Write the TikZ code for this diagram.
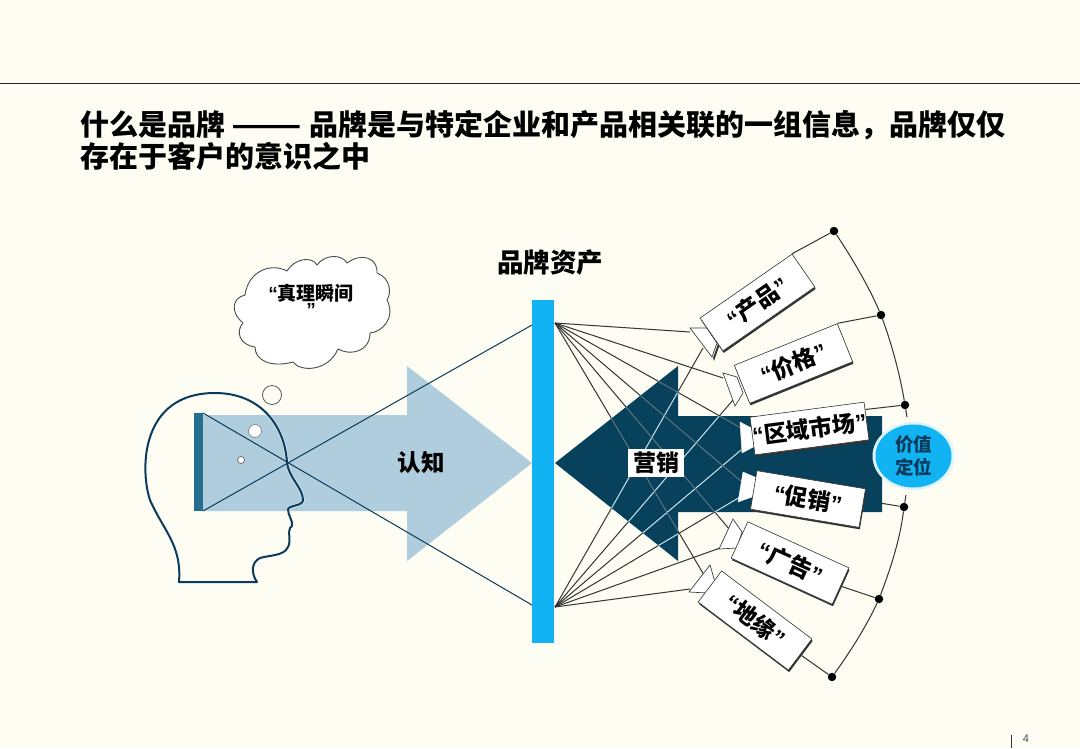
\documentclass[tikz,border=0pt]{standalone}
\usepackage{fontspec}
\usetikzlibrary{calc,patterns.meta}
\setmainfont{Noto Sans CJK SC}
\newfontfamily\qfont{Liberation Sans}
\definecolor{bgc}{HTML}{FDFDF3}
\definecolor{bgdot}{HTML}{F6F6E6}
\definecolor{lightarrow}{HTML}{AFCDDC}
\definecolor{darkarrow}{HTML}{07415C}
\definecolor{barblue}{HTML}{12B3F2}
\definecolor{headbar}{HTML}{256E8E}
\definecolor{navytext}{HTML}{0B3B5C}
\def\lqm{{\qfont “}}
\def\rqm{{\qfont ”}}
\def\mydarkarrow{(555,463) -- (678,366) -- (678,416) -- (882,416) -- (882,512) -- (678,512) -- (678,561) -- cycle}
\tikzset{
 x=1pt,y=-1pt,
 labelbox/.style={draw=black!80,line width=.6pt,fill=white,minimum width=110pt,minimum height=39pt,inner sep=0pt,
   font=\fontsize{23}{23}\selectfont\bfseries,text=black},
 shadowbox/.style={fill=black!80,inner sep=0pt,minimum width=110pt,minimum height=39pt},
 camera/.style={draw=black!75,line width=.7pt,fill=white},
 ray/.style={line width=1pt,draw=black!80},
 dotn/.style={circle,fill=black,inner sep=0pt,minimum size=8.5pt},
 arcl/.style={line width=1pt,draw=black!80},
 heading/.style={font=\fontsize{29}{32}\selectfont\bfseries,text=black,anchor=north west,align=left,inner sep=0pt},
}
\begin{document}
\begin{tikzpicture}
\useasboundingbox (0,0) rectangle (1080,748);
\fill[bgc] (0,0) rectangle (1080,748);
\fill[pattern={Dots[distance=8pt,radius=.7pt]},pattern color=bgdot] (0,0) rectangle (1080,748);
\draw[black!85,line width=.8pt] (0,83) -- (1080,83);
\node[heading] (title) at (80,110.5) {什么是品牌 \scalebox{1.42}[1]{——} 品牌是与特定企业和产品相关联的一组信息，品牌仅仅\\存在于客户的意识之中};

% light arrow
\fill[lightarrow] (203,415) -- (407,415) -- (407,366) -- (532,463) -- (407,561) -- (407,511) -- (203,511) -- cycle;
\fill[headbar] (194,413) rectangle (203,511);
\node[inner sep=0pt,font=\fontsize{23.5}{24}\selectfont\bfseries] (renzhi) at (421,463) {认知};

% coordinates
\coordinate (hT) at (203,413);
\coordinate (hB) at (203,511);
\coordinate (wT) at (532,325);
\coordinate (wB) at (532,605);
\coordinate (cT) at (555,323);
\coordinate (cB) at (555,607);

% head
\draw[white,opacity=.5,line width=3.4pt,line join=round] (179,582) .. controls (182,545) and (163,530) .. (150,500) .. controls (140,470) and (140,393) .. (215,393) .. controls (260,393) and (285,425) .. (287,463) .. controls (289,478) and (303,488) .. (303,500) .. controls (303,506) and (290,505) .. (288,509) .. controls (288,516) and (293,520) .. (292,526) .. controls (286,530) and (292,540) .. (288,547) .. controls (284,556) and (270,555) .. (260,558) .. controls (250,563) and (252,575) .. (257,582) -- cycle;
\draw[navytext,line width=2pt,line join=round] (179,582) .. controls (182,545) and (163,530) .. (150,500) .. controls (140,470) and (140,393) .. (215,393) .. controls (260,393) and (285,425) .. (287,463) .. controls (289,478) and (303,488) .. (303,500) .. controls (303,506) and (290,505) .. (288,509) .. controls (288,516) and (293,520) .. (292,526) .. controls (286,530) and (292,540) .. (288,547) .. controls (284,556) and (270,555) .. (260,558) .. controls (250,563) and (252,575) .. (257,582) -- cycle;
\draw[ray,navytext] (hT) -- (wB);
\draw[ray,navytext] (hB) -- (wT);

% bubbles
\node[circle,draw=black!65,fill=bgc,line width=.8pt,minimum size=19pt,inner sep=0pt] (b1) at (272,395) {};
\node[circle,draw=black!45,fill=white,line width=.8pt,minimum size=13pt,inner sep=0pt] (b2) at (255,431) {};
\node[circle,draw=black!60,fill=white,line width=.7pt,minimum size=7pt,inner sep=0pt] (b3) at (241,460) {};

% cloud
\draw[black!70,fill=white,line width=.9pt,line join=round]
 (243,323) .. controls (230,312) and (232,298) .. (245,295)
 .. controls (248,272) and (270,262) .. (287,271)
 .. controls (295,258) and (312,256) .. (317,265)
 .. controls (325,254) and (342,254) .. (347,263)
 .. controls (362,252) and (378,258) .. (377,273)
 .. controls (390,278) and (392,292) .. (387,300)
 .. controls (396,318) and (382,332) .. (370,333)
 .. controls (370,352) and (350,356) .. (338,349)
 .. controls (328,372) and (300,372) .. (293,362)
 .. controls (270,368) and (255,360) .. (255,347)
 .. controls (240,345) and (235,332) .. (243,323) -- cycle;
\node[inner sep=0pt,align=center,font=\fontsize{19}{13.5}\selectfont\bfseries] (cloudtext) at (311,300) {\lqm{}真理瞬间\\\rqm};

% blue bar
\fill[barblue] (532,300) rectangle (554,643);
\node[inner sep=0pt,font=\fontsize{26.5}{27}\selectfont\bfseries] (zichan) at (550,263) {品牌资产};

% dots
\node[dotn] (dA) at (834,231) {};
\node[dotn] (dB) at (881,315) {};
\node[dotn] (dC) at (905,405) {};
\node[dotn] (dD) at (904,507) {};
\node[dotn] (dE) at (879,599) {};
\node[dotn] (dF) at (832,677) {};
\coordinate (tickC) at (907,417);
\coordinate (tickD) at (906,495);
\draw[arcl] (dA) .. controls (852,258) and (868,285) .. (dB);
\draw[arcl] (dB) .. controls (892,345) and (900,375) .. (dC);
\draw[arcl] (dC) -- (tickC);
\draw[arcl] (dD) -- (tickD);
\draw[arcl] (dD) .. controls (900,540) and (890,570) .. (dE);
\draw[arcl] (dE) .. controls (866,627) and (850,652) .. (dF);

% lines behind the dark arrow
\coordinate (arrowedge) at (880,503);
\draw[arcl] (arrowedge) -- (dD);

% dark arrow
\fill[darkarrow] \mydarkarrow;

% camera ends
\coordinate (cam1T) at (690,332);
\coordinate (cam2T) at (723,378);
\coordinate (cam3T) at (741,428);
\coordinate (cam4T) at (742,482);
\coordinate (cam5T) at (730,530);
\coordinate (cam6T) at (704,575);
\coordinate (cam1B) at (703,348);
\coordinate (cam2B) at (733,400);
\coordinate (cam3B) at (741,450);
\coordinate (cam4B) at (740,497);
\coordinate (cam5B) at (720,548);
\coordinate (cam6B) at (690,589);

\foreach \n in {1,...,6} {
  \draw[ray] (cT) -- (cam\n T);
  \draw[ray] (cB) -- (cam\n B);
}
\begin{scope}
\clip \mydarkarrow;
\foreach \n in {1,...,6} {
  \draw[line width=.9pt,draw=white!32!darkarrow] (cT) -- (cam\n T);
  \draw[line width=1pt,draw=cyan!25!white] (cB) -- (cam\n B);
}
\end{scope}

% cameras
\fill[black!80] (713,358) -- (718,344) -- (720,344) -- (714,361) -- cycle;
\draw[camera] (690,328) -- (707,328) -- (717,343) -- (712,357) -- cycle;
\draw[camera] (723,373) -- (737,377) -- (743,393) -- (735,406) -- cycle;
\fill[white,draw=white] (740,422) -- (755,430) -- (757,445) -- (742,453) -- cycle;
\fill[white,draw=white] (743,472) -- (757,478) -- (752,497) -- (738,502) -- cycle;
\draw[camera] (733,519) -- (742,532) -- (737,548) -- (719,549) -- cycle;
\draw[camera] (710,565) -- (715,582) -- (707,593) -- (689,592) -- cycle;

% label box shadows (offset straight down and to the right)
\node[shadowbox,minimum width=112pt,minimum height=40pt,rotate=34.8] (sA) at (758.3,304.5) {};
\node[shadowbox,minimum width=111pt,minimum height=41pt,rotate=22] (sB) at (794.3,365.5) {};
\node[shadowbox,minimum width=111pt,minimum height=38pt,rotate=7.5] (sC) at (810.3,430.5) {};
\node[shadowbox,rotate=-9.5] (sD) at (808.8,501) {};
\node[shadowbox,minimum width=111pt,minimum height=40pt,rotate=-24.5] (sE) at (790.8,565) {};
\node[shadowbox,minimum width=113pt,rotate=-37] (sF) at (755.8,622.5) {};

% label boxes
\node[labelbox,minimum width=112pt,minimum height=40pt,rotate=34.8] (bA) at (757.5,302.5) {\lqm{}产品\rqm};
\node[labelbox,minimum width=111pt,minimum height=41pt,rotate=22] (bB) at (793.5,363.5) {\lqm{}价格\rqm};
\node[labelbox,minimum width=111pt,minimum height=38pt,rotate=7.5] (bC) at (809.5,428.5) {\lqm{}区域市场\rqm};
\node[labelbox,rotate=-9.5] (bD) at (808,499) {\lqm{}促销\rqm};
\node[labelbox,minimum width=111pt,minimum height=40pt,rotate=-24.5] (bE) at (790,563) {\lqm{}广告\rqm};
\node[labelbox,minimum width=113pt,rotate=-37] (bF) at (755,620.5) {\lqm{}地缘\rqm};

\draw[arcl] (bA.north east) -- (dA);
\draw[arcl] (bB.north east) -- (dB);
\draw[arcl] ($(bC.north east)!.2!(bC.south east)$) -- (dC);
\draw[arcl] (bE.east) -- (dE);
\draw[arcl] (bF.east) -- (dF);

% value circle
\fill[white!85!barblue] (913.5,456) ellipse [x radius=41,y radius=34];
\fill[barblue] (913.5,456) ellipse [x radius=38,y radius=31.5];
\node[inner sep=0pt,align=center,text=navytext,font=\fontsize{18.5}{23}\selectfont\bfseries] (jiazhi) at (913.5,456) {价值\\定位};

% marketing label
\node[fill=white,inner sep=0pt,minimum width=56pt,minimum height=28pt,font=\fontsize{23}{23}\selectfont\bfseries] (yingxiao) at (656,463) {营销};

% page number
\draw[black!80,line width=.8pt] (1011,735) -- (1011,748);
\node[inner sep=0pt,text=black!70,font=\qfont\fontsize{11}{11}\selectfont] (pg) at (1026,739) {4};
\end{tikzpicture}
\end{document}
